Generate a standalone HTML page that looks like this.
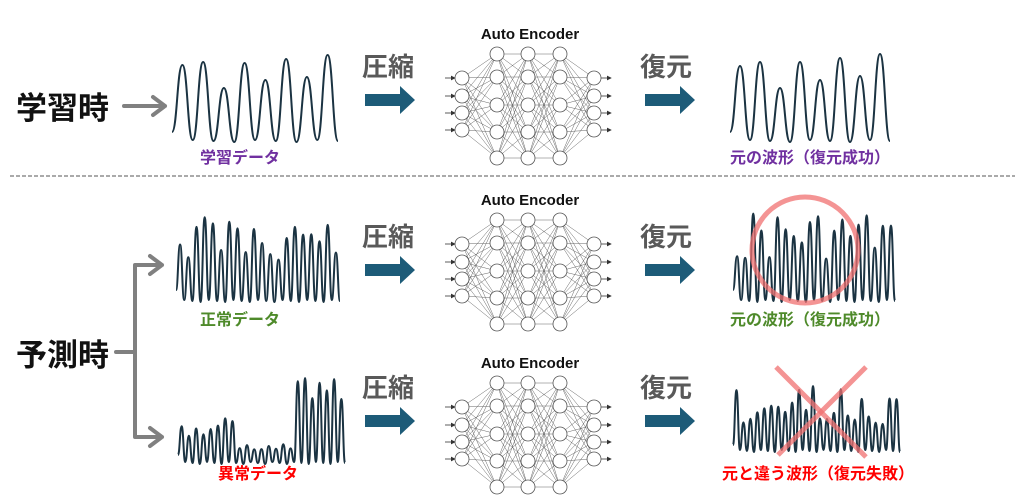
<!DOCTYPE html>
<html><head><meta charset="utf-8">
<style>
html,body{margin:0;padding:0;background:#fff;}
svg{display:block}
text{font-family:"Liberation Sans","Noto Sans CJK JP",sans-serif;font-weight:bold}
</style></head>
<body>
<svg id="s" width="1024" height="499" viewBox="0 0 1024 499" xmlns="http://www.w3.org/2000/svg">
<defs>
<marker id="ah" markerWidth="6" markerHeight="6" refX="5" refY="3" orient="auto"><path d="M0,0 L6,3 L0,6 z" fill="#333"/></marker>
</defs>
<text x="16" y="119" font-size="31" fill="#111">学習時</text>
<text x="16" y="366" font-size="31" fill="#111">予測時</text>
<g stroke="#808080" stroke-width="4" fill="none" stroke-linecap="round" stroke-linejoin="round">
<path d="M124,106 L165,106 M153,97 L165,106 L153,115"/>
<path d="M116,352 L135,352 M135,265 L135,437 M135,265 L162,265 M150,256 L162,265 L150,274 M135,437 L162,437 M150,428 L162,437 L150,446"/>
</g>
<line x1="10" y1="176" x2="1015" y2="176" stroke="#555" stroke-width="1" stroke-dasharray="4,2"/>
<g id="content"></g>
<text x="240" y="163" font-size="16" fill="#7030a0" text-anchor="middle">学習データ</text>
<text x="810" y="163" font-size="16" fill="#7030a0" text-anchor="middle">元の波形（復元成功）</text>
<text x="240" y="325" font-size="16" fill="#4e8a2a" text-anchor="middle">正常データ</text>
<text x="810" y="325" font-size="16" fill="#4e8a2a" text-anchor="middle">元の波形（復元成功）</text>
<text x="258" y="479" font-size="16" fill="#ff0000" text-anchor="middle">異常データ</text>
<text x="818" y="479" font-size="16" fill="#ff0000" text-anchor="middle">元と違う波形（復元失敗）</text>
<circle cx="805" cy="250" r="53" fill="none" stroke="#f07070" stroke-opacity="0.75" stroke-width="5"/>
<g stroke="#f07070" stroke-opacity="0.75" stroke-width="5"><line x1="776" y1="367" x2="866" y2="457"/><line x1="866" y1="367" x2="778" y2="455"/></g>
</svg>
<script>
var NS="http://www.w3.org/2000/svg",g=document.getElementById("content");
function el(n,a){var e=document.createElementNS(NS,n);for(var k in a)e.setAttribute(k,a[k]);g.appendChild(e);return e;}
function txt(x,y,s,t,fill,anchor){var e=el("text",{x:x,y:y,"font-size":s,fill:fill,"text-anchor":anchor||"start"});e.textContent=t;}
function wave(x0,x1,bot,tops,startY){
 var n=tops.length,w=(x1-x0)/n,d="M"+x0+","+(startY||bot-8);
 var pts=[];
 for(var i=0;i<n;i++){pts.push([x0+w*(i+0.5),tops[i]]);pts.push([x0+w*(i+1),bot+((i*7)%3)]);}
 var px=x0,py=startY||bot-8;
 pts.forEach(function(p){var mx=(px+p[0])/2;d+=" C"+mx+","+py+" "+mx+","+p[1]+" "+p[0]+","+p[1];px=p[0];py=p[1];});
 el("path",{d:d,fill:"none",stroke:"#1b3342","stroke-width":2});
}
function rnd(seed){return function(){seed=(seed*9301+49297)%233280;return seed/233280;};}
function genTops(n,lo,hi,seed){var r=rnd(seed),a=[];for(var i=0;i<n;i++)a.push(lo+r()*(hi-lo));return a;}
function bigArrow(x,y){el("path",{d:"M"+x+","+(y+5)+" h35 v-8 l15,14 l-15,14 v-8 h-35 z",fill:"#1d5b78"});}
function nn(cx,ty){
 txt(cx,ty,15,"Auto Encoder","#111","middle");
 var L=[[cx-68,[72,90,107,124]],[cx-33,[48,71,99,126,152]],[cx-2,[48,71,99,126,152]],[cx+30,[48,71,99,126,152]],[cx+64,[72,90,107,124]]];
 var off=ty-33;
 for(var i=0;i<L.length-1;i++)L[i][1].forEach(function(a){L[i+1][1].forEach(function(b){el("line",{x1:L[i][0],y1:a+off,x2:L[i+1][0],y2:b+off,stroke:"#666","stroke-width":0.5});});});
 L[0][1].forEach(function(a){el("line",{x1:L[0][0]-17,y1:a+off,x2:L[0][0]-7,y2:a+off,stroke:"#333","stroke-width":0.8,"marker-end":"url(#ah)"});});
 L[4][1].forEach(function(a){el("line",{x1:L[4][0]+7,y1:a+off,x2:L[4][0]+17,y2:a+off,stroke:"#333","stroke-width":0.8,"marker-end":"url(#ah)"});});
 L.forEach(function(l){l[1].forEach(function(a){el("circle",{cx:l[0],cy:a+off,r:7,fill:"#fff",stroke:"#555","stroke-width":0.8});});});
}
function mid(y){txt(362,y,26,"圧縮","#595959");bigArrow(365,y+13);txt(640,y,26,"復元","#595959");bigArrow(645,y+13);}
mid(76);mid(246);mid(397);
nn(530,39);nn(530,205);nn(530,368);
wave(172,338,140,[65,62,88,63,80,59,77,55],132);
wave(730,890,140,[66,62,88,62,80,58,76,54],132);
wave(176,340,300,genTops(20,212,262,11),290);
wave(733,895,300,genTops(20,210,262,17),290);
var a=genTops(8,418,438,5).concat(genTops(8,443,452,9)).concat(genTops(7,372,400,3));
wave(178,345,462,a,455);
wave(733,900,450,genTops(24,385,425,23),445);
</script>
</body></html>
